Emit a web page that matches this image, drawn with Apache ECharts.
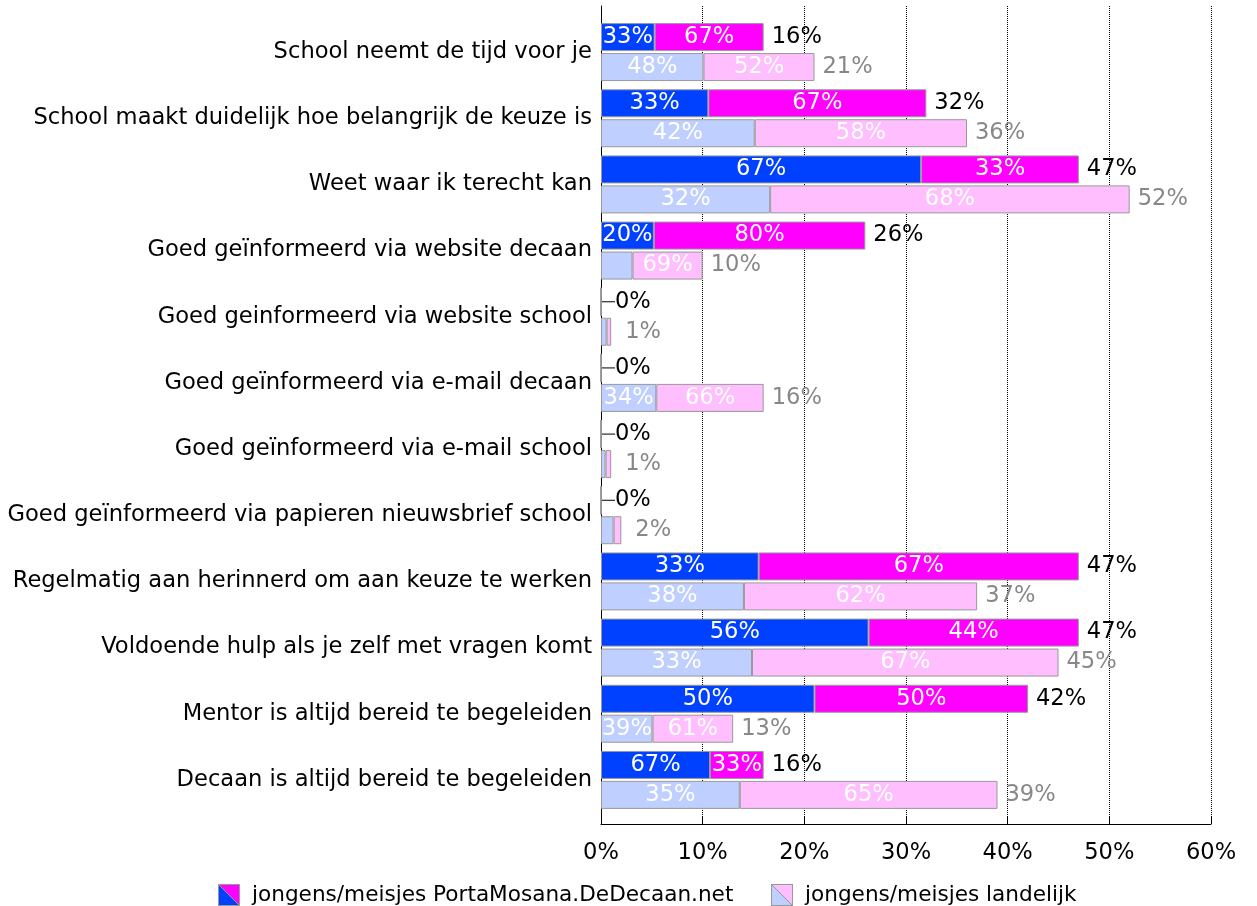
<!DOCTYPE html>
<html>
<head>
<meta charset="utf-8">
<script src="https://cdn.jsdelivr.net/npm/echarts@6/dist/echarts.min.js"></script>
<style>
  html, body { margin: 0; padding: 0; background: #fff; }
  #chart { width: 1257px; height: 906px; }
</style>
</head>
<body>
<div id="chart"></div>
<script>
const categories = [
  'School neemt de tijd voor je',
  'School maakt duidelijk hoe belangrijk de keuze is',
  'Weet waar ik terecht kan',
  'Goed geïnformeerd via website decaan',
  'Goed geinformeerd via website school',
  'Goed geïnformeerd via e-mail decaan',
  'Goed geïnformeerd via e-mail school',
  'Goed geïnformeerd via papieren nieuwsbrief school',
  'Regelmatig aan herinnerd om aan keuze te werken',
  'Voldoende hulp als je zelf met vragen komt',
  'Mentor is altijd bereid te begeleiden',
  'Decaan is altijd bereid te begeleiden'
];

// totals (% of respondents) and boys/girls share of each total
const pmTotal   = [16, 32, 47, 26, 0, 0, 0, 0, 47, 47, 42, 16];
const pmBoys    = [33, 33, 67, 20, 0, 0, 0, 0, 33, 56, 50, 67];
const pmGirls   = [67, 67, 33, 80, 0, 0, 0, 0, 67, 44, 50, 33];
const landTotal = [21, 36, 52, 10, 1, 16, 1, 2, 37, 45, 13, 39];
const landBoys  = [48, 42, 32, 31, 55, 34, 45, 62, 38, 33, 39, 35];
const landGirls = [52, 58, 68, 69, 45, 66, 55, 38, 62, 67, 61, 65];

const xTicks = [0, 10, 20, 30, 40, 50, 60];

const pmName = 'jongens/meisjes PortaMosana.DeDecaan.net';
const landName = 'jongens/meisjes landelijk';

const FONT = 'DejaVu Sans';
const FS = 22.6;

const icon = (a, b) => 'image://data:image/svg+xml;charset=utf-8,' + encodeURIComponent(
  "<svg xmlns='http://www.w3.org/2000/svg' width='22' height='22'>" +
  "<polygon points='0,0 22,0 22,22' fill='" + b + "'/>" +
  "<polygon points='0,0 0,22 22,22' fill='" + a + "'/>" +
  "<line x1='0' y1='0' x2='22' y2='22' stroke='#999' stroke-width='1'/>" +
  "<rect x='0.5' y='0.5' width='21' height='21' fill='none' stroke='#999' stroke-width='1'/></svg>"
);

const seg = (total, share) => total.map((t, i) => t * share[i] / 100);

const segLabel = (total, share) => ({
  show: true,
  position: 'inside',
  color: '#fff',
  fontFamily: FONT,
  fontSize: FS,
  formatter: p => (total[p.dataIndex] * share[p.dataIndex] / 100 >= 4 ? share[p.dataIndex] + '%' : '')
});

const barBase = {
  type: 'bar',
  barWidth: 28,
  barGap: '7%',
  xAxisIndex: 0,
  yAxisIndex: 0
};

const chart = echarts.init(document.getElementById('chart'));

chart.setOption({
  animation: false,
  backgroundColor: '#fff',
  textStyle: { fontFamily: FONT },
  grid: [
    { left: 601, right: 46, top: 19, bottom: 93 },
    { left: 601, right: 46, top: 6, bottom: 82 }
  ],
  xAxis: [
    { gridIndex: 0, type: 'value', min: 0, max: 60, show: false },
    {
      gridIndex: 1, type: 'value', min: xTicks[0], max: xTicks[xTicks.length - 1], interval: 10,
      axisLine: { show: true, lineStyle: { color: '#000', width: 1 } },
      axisTick: { show: true, inside: true, length: 8, lineStyle: { color: '#000' } },
      splitLine: { show: true, lineStyle: { color: '#000', type: 'dotted', width: 1 } },
      axisLabel: { formatter: '{value}%', color: '#000', fontFamily: FONT, fontSize: FS, margin: 18 }
    }
  ],
  yAxis: [
    {
      gridIndex: 0, type: 'category', data: categories, inverse: true,
      axisLine: { show: false }, axisTick: { show: false },
      axisLabel: { color: '#000', fontFamily: FONT, fontSize: FS, margin: 9 }
    },
    {
      gridIndex: 1, type: 'value', min: 0, max: 1,
      axisLine: { show: true, lineStyle: { color: '#000', width: 1 } },
      axisTick: { show: false }, axisLabel: { show: false }, splitLine: { show: false }
    }
  ],
  legend: [
    {
      data: [{ name: pmName, icon: icon('#0040FF', '#FF00FF') }],
      left: 213, top: 879, itemWidth: 22, itemHeight: 22,
      textStyle: { color: '#000', fontFamily: FONT, fontSize: 21.6, padding: [0, 0, 0, 7] },
      selectedMode: false
    },
    {
      data: [{ name: landName, icon: icon('#BFCFFF', '#FFBFFF') }],
      left: 766, top: 879, itemWidth: 22, itemHeight: 22,
      textStyle: { color: '#000', fontFamily: FONT, fontSize: 21.6, padding: [0, 0, 0, 7] },
      selectedMode: false
    }
  ],
  series: [
    Object.assign({}, barBase, {
      name: 'pm jongens', stack: 'pm', data: seg(pmTotal, pmBoys),
      itemStyle: { color: '#0040FF', borderColor: '#999', borderWidth: 1 },
      label: segLabel(pmTotal, pmBoys)
    }),
    Object.assign({}, barBase, {
      name: 'pm meisjes', stack: 'pm', data: seg(pmTotal, pmGirls),
      itemStyle: { color: '#FF00FF', borderColor: '#999', borderWidth: 1 },
      label: segLabel(pmTotal, pmGirls)
    }),
    Object.assign({}, barBase, {
      name: pmName, stack: 'pm',
      // zero-length marker at the end of the stack carries the total label
      data: pmTotal.map(t => ({ value: 0, labelLine: { show: t === 0 } })),
      itemStyle: { color: 'rgba(0,0,0,0)' },
      label: {
        show: true, position: 'right', distance: 8, color: '#000',
        fontFamily: FONT, fontSize: FS,
        formatter: p => pmTotal[p.dataIndex] + '%'
      },
      labelLine: { lineStyle: { color: '#000', width: 1 } },
      labelLayout: p => (pmTotal[p.dataIndex] === 0 ? { dx: 6 } : {})
    }),
    Object.assign({}, barBase, {
      name: 'land jongens', stack: 'land', data: seg(landTotal, landBoys),
      itemStyle: { color: '#BFCFFF', borderColor: '#999', borderWidth: 1 },
      label: segLabel(landTotal, landBoys)
    }),
    Object.assign({}, barBase, {
      name: 'land meisjes', stack: 'land', data: seg(landTotal, landGirls),
      itemStyle: { color: '#FFBFFF', borderColor: '#999', borderWidth: 1 },
      label: segLabel(landTotal, landGirls)
    }),
    Object.assign({}, barBase, {
      name: landName, stack: 'land', data: landTotal.map(() => 0),
      itemStyle: { color: 'rgba(0,0,0,0)' },
      label: {
        show: true, position: 'right', distance: 8, color: '#888',
        fontFamily: FONT, fontSize: FS,
        formatter: p => landTotal[p.dataIndex] + '%'
      },
      labelLayout: p => (landTotal[p.dataIndex] <= 2 ? { dx: 6 } : {})
    })
  ]
});
</script>
</body>
</html>
